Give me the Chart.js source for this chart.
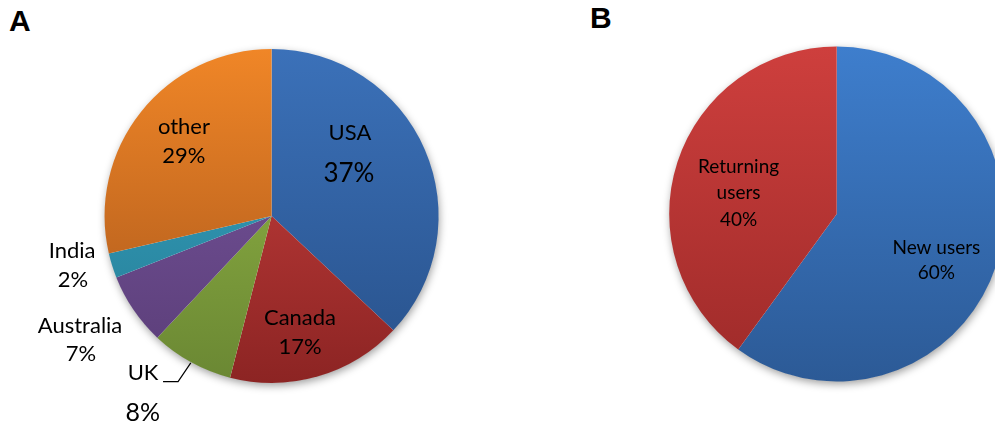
<!DOCTYPE html>
<html>
<head>
<meta charset="utf-8">
<script src="https://cdn.jsdelivr.net/npm/chart.js@4.4.1/dist/chart.umd.min.js"></script>
<style>
  html, body { margin: 0; padding: 0; background: #fff; overflow: hidden; }
  body { width: 995px; height: 425px; position: relative; font-family: Lato, sans-serif; }
  .panel { position: absolute; top: 0; height: 425px; }
  #wrapA { left: 0; width: 545px; }
  #wrapB { left: 580px; width: 440px; }
  .letter { position: absolute; font: bold 30px "Liberation Sans", Arial, sans-serif; color: #000; line-height: 1; }
</style>
</head>
<body>
<div class="letter" style="left:9px; top:6px;">A</div>
<div class="letter" style="left:590px; top:3px;">B</div>
<div class="panel" id="wrapA"><canvas id="pieA"></canvas></div>
<div class="panel" id="wrapB"><canvas id="pieB"></canvas></div>
<script>
// panel A: visitors by country (%)
const countries = ['USA', 'Canada', 'UK', 'Australia', 'India', 'other'];
const countryShare = [37, 17, 8, 7, 2.4, 28.6];

// panel B: new vs returning (%)
const userTypes = ['New users', ['Returning', 'users']];
const userShare = [60, 40];

// [top, bottom] of the vertical gradient for each slice
const coloursA = [
  ['#3b71b9', '#28518a'],
  ['#cf4341', '#8c2423'],
  ['#97bb48', '#6a8733'],
  ['#7a58a2', '#5a3d77'],
  ['#35a6c5', '#267b93'],
  ['#f08627', '#a6551b']
];
const coloursB = [
  ['#3e7ecd', '#2c5a96'],
  ['#ce3f3d', '#9d2a29']
];

// label placement, in units of the radius from the pie centre
const spotsA = [
  { name: [0.469, -0.50, 22], pct: [0.463, -0.26, 26] },
  { name: [0.17, 0.608, 22], pct: [0.17, 0.777, 22] },
  { name: [-0.77, 0.932, 22], pct: [-0.772, 1.172, 25],
    leader: [[-0.65, 0.992], [-0.56, 0.992], [-0.484, 0.88]] },
  { name: [-1.147, 0.656, 22], pct: [-1.141, 0.82, 22] },
  { name: [-1.195, 0.204, 22], pct: [-1.189, 0.377, 22] },
  { name: [-0.525, -0.539, 22], pct: [-0.525, -0.367, 22] }
];
const spotsB = [
  { name: [0.595, 0.195, 19], pct: [0.595, 0.348, 19] },
  { name: [-0.586, -0.283, 19, 0.151], pct: [-0.586, 0.03, 19] }
];

function gradientFill(colours) {
  return function (ctx) {
    const chart = ctx.chart;
    const area = chart.chartArea;
    const pair = colours[ctx.dataIndex];
    if (!area) return pair[0];
    const g = chart.ctx.createLinearGradient(0, area.top, 0, area.bottom);
    g.addColorStop(0, pair[0]);
    g.addColorStop(1, pair[1]);
    return g;
  };
}

const pieShadow = {
  id: 'pieShadow',
  beforeDatasetsDraw(chart) {
    const arc = chart.getDatasetMeta(0).data[0];
    if (!arc) return;
    const c = chart.ctx;
    c.save();
    c.shadowColor = 'rgba(0,0,0,0.4)';
    c.shadowBlur = 8;
    c.shadowOffsetX = 1;
    c.shadowOffsetY = 3;
    c.fillStyle = '#fff';
    c.beginPath();
    c.arc(arc.x, arc.y, arc.outerRadius - 0.5, 0, Math.PI * 2);
    c.fill();
    c.restore();
  }
};

const sliceLabels = {
  id: 'sliceLabels',
  afterDatasetsDraw(chart, args, opts) {
    const meta = chart.getDatasetMeta(0);
    const arc = meta.data[0];
    if (!arc) return;
    const cx = arc.x, cy = arc.y, r = arc.outerRadius;
    const values = chart.data.datasets[0].data;
    const total = values.reduce((a, b) => a + b, 0);
    const c = chart.ctx;
    c.save();
    c.fillStyle = '#000';
    c.textAlign = 'center';
    c.textBaseline = 'alphabetic';
    chart.data.labels.forEach((label, i) => {
      const spot = opts.spots[i];
      const lines = Array.isArray(label) ? label : [label];
      const [nx, ny, ns, step] = spot.name;
      c.font = ns + 'px Lato';
      lines.forEach((line, k) => {
        c.fillText(line, cx + nx * r, cy + (ny + k * (step || 0)) * r + 0.36 * ns);
      });
      const [px, py, ps] = spot.pct;
      c.font = ps + 'px Lato';
      c.fillText(Math.round(values[i] / total * 100) + '%', cx + px * r, cy + py * r + 0.36 * ps);
      if (spot.leader) {
        c.strokeStyle = '#000';
        c.lineWidth = 1.2;
        c.beginPath();
        spot.leader.forEach(([lx, ly], k) => {
          const x = cx + lx * r, y = cy + ly * r;
          if (k === 0) c.moveTo(x, y); else c.lineTo(x, y);
        });
        c.stroke();
      }
    });
    c.restore();
  }
};

function makePie(id, labels, values, colours, spots, padding) {
  return new Chart(document.getElementById(id), {
    type: 'pie',
    data: {
      labels: labels,
      datasets: [{
        data: values,
        backgroundColor: gradientFill(colours),
        borderWidth: 0,
        hoverBorderWidth: 0,
        hoverOffset: 0
      }]
    },
    options: {
      responsive: true,
      maintainAspectRatio: false,
      animation: false,
      events: [],
      layout: { padding: padding },
      plugins: {
        legend: { display: false },
        tooltip: { enabled: false },
        sliceLabels: { spots: spots }
      }
    },
    plugins: [pieShadow, sliceLabels]
  });
}

makePie('pieA', countries, countryShare, coloursA, spotsA,
  { left: 104.6, right: 106.4, top: 49, bottom: 42 });
makePie('pieB', userTypes, userShare, coloursB, spotsB,
  { left: 89.2, right: 15.8, top: 46.5, bottom: 43.5 });
</script>
</body>
</html>
